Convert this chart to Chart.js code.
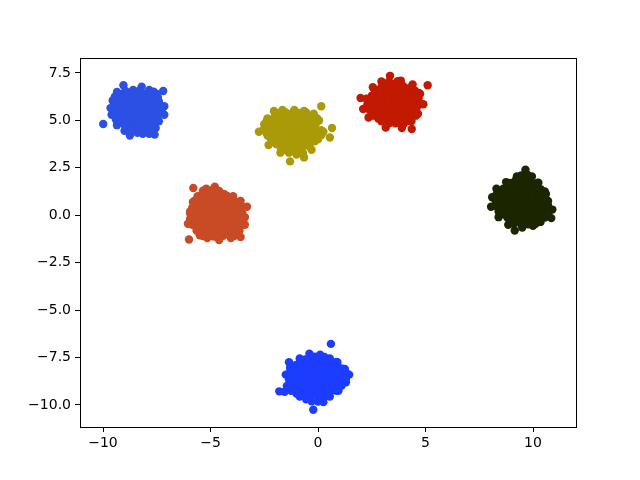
<!DOCTYPE html>
<html>
<head>
<meta charset="utf-8">
<script src="https://cdn.jsdelivr.net/npm/chart.js@4"></script>
<style>
  html, body { margin: 0; padding: 0; background: #fff; }
  canvas { display: block; }
</style>
</head>
<body>
<canvas id="chart-blobs" width="640" height="480"></canvas>
<script>
// cluster points [x, y]
const blobUpperLeft = [
  [-9.99, 4.81], [-9.05, 6.85], [-8.6, 6.6], [-8.2, 6.78], [-7.85, 6.6], [-7.2, 6.55],
  [-7.4, 6.0], [-7.15, 5.75], [-7.15, 5.3], [-7.4, 4.95], [-7.55, 4.6], [-7.6, 4.25],
  [-7.85, 4.3], [-8.15, 4.3], [-8.4, 4.35], [-8.75, 4.2], [-9.0, 4.45], [-9.35, 4.75],
  [-9.6, 5.3], [-9.65, 5.65], [-9.55, 6.05], [-9.35, 6.5],
  [-9.1, 6.4], [-8.8, 6.38], [-8.45, 6.42], [-8.1, 6.4], [-7.8, 6.35], [-7.5, 6.4],
  [-9.3, 6.1], [-8.95, 6.12], [-8.6, 6.08], [-8.3, 6.1], [-7.95, 6.1], [-7.6, 6.12],
  [-9.4, 5.8], [-9.1, 5.82], [-8.75, 5.78], [-8.4, 5.8], [-8.05, 5.8], [-7.7, 5.82], [-7.4, 5.78],
  [-9.35, 5.5], [-9.0, 5.52], [-8.65, 5.48], [-8.3, 5.5], [-8.0, 5.5], [-7.65, 5.52], [-7.35, 5.48],
  [-9.3, 5.2], [-8.95, 5.22], [-8.6, 5.18], [-8.25, 5.2], [-7.9, 5.2], [-7.55, 5.22],
  [-9.1, 4.9], [-8.75, 4.92], [-8.45, 4.88], [-8.1, 4.9], [-7.75, 4.9],
  [-8.85, 4.6], [-8.55, 4.62], [-8.2, 4.58], [-7.9, 4.6],
  [-8.95, 6.55], [-8.3, 6.58], [-7.65, 6.52],
  [-9.45, 6.25], [-9.12, 6.25], [-8.78, 6.27], [-8.45, 6.23], [-8.12, 6.25], [-7.78, 6.27], [-7.45, 6.22],
  [-9.5, 5.95], [-9.12, 5.97], [-8.78, 5.93], [-8.45, 5.95], [-8.12, 5.97], [-7.78, 5.93], [-7.45, 5.95],
  [-9.55, 5.65], [-9.25, 5.67], [-8.92, 5.63], [-8.58, 5.65], [-8.22, 5.67], [-7.88, 5.63], [-7.52, 5.65], [-7.25, 5.62],
  [-9.45, 5.35], [-9.15, 5.37], [-8.8, 5.33], [-8.45, 5.35], [-8.1, 5.37], [-7.78, 5.33], [-7.45, 5.35],
  [-9.4, 5.05], [-9.05, 5.07], [-8.78, 5.03], [-8.42, 5.05], [-8.08, 5.07], [-7.72, 5.03], [-7.45, 5.05],
  [-9.0, 4.75], [-8.62, 4.77], [-8.3, 4.73], [-7.95, 4.75], [-7.65, 4.77],
  [-8.7, 4.45], [-8.35, 4.47], [-8.05, 4.43], [-7.75, 4.45]
];
const blobYellow = [
  [-2.05, 5.5], [-1.65, 5.55], [-1.1, 5.55], [-0.65, 5.5], [0.15, 5.75], [-0.2, 5.35],
  [0.05, 5.0], [0.65, 4.6], [0.55, 4.1], [0.0, 4.0], [-0.3, 3.45], [-0.65, 3.05],
  [-1.3, 2.84], [-1.75, 3.3], [-2.3, 3.7], [-2.75, 4.4], [-2.4, 4.95], [-1.0, 3.2], [0.25, 4.4],
  [-2.0, 5.25], [-1.7, 5.27], [-1.35, 5.23], [-1.0, 5.25], [-0.7, 5.27], [-0.4, 5.23],
  [-2.2, 4.95], [-1.85, 4.97], [-1.5, 4.93], [-1.2, 4.95], [-0.85, 4.97], [-0.5, 4.93], [-0.2, 4.95],
  [-2.35, 4.65], [-2.0, 4.67], [-1.65, 4.63], [-1.3, 4.65], [-0.95, 4.67], [-0.6, 4.63], [-0.25, 4.65],
  [-2.4, 4.35], [-2.05, 4.37], [-1.7, 4.33], [-1.35, 4.35], [-1.0, 4.37], [-0.65, 4.33], [-0.3, 4.35], [0.0, 4.37],
  [-2.2, 4.05], [-1.85, 4.07], [-1.5, 4.03], [-1.15, 4.05], [-0.8, 4.07], [-0.45, 4.03], [-0.15, 4.05],
  [-1.95, 3.75], [-1.6, 3.77], [-1.25, 3.73], [-0.9, 3.75], [-0.55, 3.77],
  [-1.55, 3.45], [-1.2, 3.47], [-0.85, 3.43],
  [-1.85, 5.4], [-1.5, 5.42], [-1.2, 5.38], [-0.85, 5.4], [-0.55, 5.42],
  [-2.35, 5.1], [-2.05, 5.12], [-1.68, 5.08], [-1.35, 5.1], [-1.02, 5.12], [-0.68, 5.08], [-0.35, 5.1], [-0.05, 5.12],
  [-2.5, 4.8], [-2.18, 4.82], [-1.82, 4.78], [-1.48, 4.8], [-1.12, 4.82], [-0.78, 4.78], [-0.42, 4.8], [-0.1, 4.82],
  [-2.55, 4.5], [-2.22, 4.52], [-1.88, 4.48], [-1.52, 4.5], [-1.18, 4.52], [-0.82, 4.48], [-0.48, 4.5], [-0.15, 4.52], [0.15, 4.48],
  [-2.35, 4.2], [-2.02, 4.22], [-1.68, 4.18], [-1.32, 4.2], [-0.98, 4.22], [-0.62, 4.18], [-0.3, 4.2], [0.15, 4.22],
  [-2.05, 3.9], [-1.75, 3.92], [-1.4, 3.88], [-1.05, 3.9], [-0.72, 3.92], [-0.38, 3.88], [-0.15, 3.9],
  [-1.75, 3.6], [-1.42, 3.62], [-1.08, 3.58], [-0.72, 3.6], [-0.4, 3.62],
  [-1.35, 3.3], [-1.0, 3.32], [-0.7, 3.28]
];
const blobRed = [
  [3.35, 7.35], [3.85, 7.1], [4.4, 6.9], [5.1, 6.85], [4.9, 5.85], [4.65, 5.35],
  [4.36, 4.55], [3.9, 4.6], [3.15, 4.62], [2.35, 5.15], [2.1, 5.6], [1.98, 6.18],
  [2.55, 6.75], [2.95, 7.05], [4.75, 6.4], [3.6, 4.85],
  [3.1, 6.9], [3.5, 6.92], [3.9, 6.88],
  [2.8, 6.6], [3.15, 6.62], [3.5, 6.58], [3.85, 6.6], [4.2, 6.62], [4.5, 6.58],
  [2.5, 6.3], [2.85, 6.32], [3.2, 6.28], [3.55, 6.3], [3.9, 6.32], [4.25, 6.28], [4.6, 6.3],
  [2.4, 6.0], [2.75, 6.02], [3.1, 5.98], [3.45, 6.0], [3.8, 6.02], [4.15, 5.98], [4.5, 6.0],
  [2.5, 5.7], [2.85, 5.72], [3.2, 5.68], [3.55, 5.7], [3.9, 5.72], [4.25, 5.68], [4.6, 5.7],
  [2.65, 5.4], [3.0, 5.42], [3.35, 5.38], [3.7, 5.4], [4.05, 5.42], [4.4, 5.38],
  [2.8, 5.1], [3.15, 5.12], [3.5, 5.08], [3.85, 5.1], [4.2, 5.12],
  [3.3, 4.85], [4.0, 4.85],
  [3.3, 7.05], [3.7, 7.07],
  [2.95, 6.75], [3.32, 6.77], [3.68, 6.73], [4.02, 6.75], [4.35, 6.77],
  [2.65, 6.45], [3.0, 6.47], [3.35, 6.43], [3.72, 6.45], [4.05, 6.47], [4.4, 6.43], [4.7, 6.45],
  [2.25, 6.15], [2.58, 6.17], [2.92, 6.13], [3.28, 6.15], [3.62, 6.17], [3.98, 6.13], [4.32, 6.15], [4.68, 6.17],
  [2.3, 5.85], [2.6, 5.87], [2.95, 5.83], [3.3, 5.85], [3.72, 5.87], [4.08, 5.83], [4.42, 5.85], [4.75, 5.87],
  [2.4, 5.55], [2.75, 5.57], [3.1, 5.53], [3.45, 5.55], [3.8, 5.57], [4.15, 5.53], [4.5, 5.55],
  [2.55, 5.25], [2.9, 5.27], [3.25, 5.23], [3.6, 5.25], [3.95, 5.27], [4.3, 5.23], [4.55, 5.25],
  [2.95, 4.95], [3.5, 4.97], [3.8, 4.93], [4.15, 4.95], [4.35, 4.97]
];
const blobDark = [
  [9.65, 2.4], [9.25, 2.05], [8.75, 1.75], [8.3, 1.4], [8.1, 0.95], [8.05, 0.45],
  [8.4, -0.1], [8.85, -0.5], [9.15, -0.8], [9.5, -0.65], [10.0, -0.55], [10.35, -0.35],
  [10.85, -0.15], [10.9, 0.3], [10.7, 0.75], [10.55, 1.25], [10.2, 1.7], [9.95, 2.05],
  [9.2, 1.85], [9.5, 1.87], [9.85, 1.83],
  [8.8, 1.55], [9.1, 1.57], [9.45, 1.53], [9.8, 1.55], [10.1, 1.57],
  [8.5, 1.25], [8.85, 1.27], [9.2, 1.23], [9.55, 1.25], [9.9, 1.27], [10.25, 1.23],
  [8.4, 0.95], [8.75, 0.97], [9.1, 0.93], [9.45, 0.95], [9.8, 0.97], [10.15, 0.93], [10.45, 0.95],
  [8.35, 0.65], [8.7, 0.67], [9.05, 0.63], [9.4, 0.65], [9.75, 0.67], [10.1, 0.63], [10.45, 0.65],
  [8.5, 0.35], [8.85, 0.37], [9.2, 0.33], [9.55, 0.35], [9.9, 0.37], [10.25, 0.33], [10.6, 0.35],
  [8.65, 0.05], [9.0, 0.07], [9.35, 0.03], [9.7, 0.05], [10.05, 0.07], [10.4, 0.03],
  [8.9, -0.25], [9.25, -0.23], [9.6, -0.27], [9.95, -0.25], [10.3, -0.23],
  [9.45, 2.1], [9.75, 2.12],
  [8.95, 1.7], [9.3, 1.72], [9.62, 1.68], [9.95, 1.7], [10.25, 1.72],
  [8.62, 1.4], [8.98, 1.42], [9.32, 1.38], [9.65, 1.4], [10.0, 1.42], [10.35, 1.38],
  [8.3, 1.1], [8.6, 1.12], [8.95, 1.08], [9.3, 1.1], [9.65, 1.12], [10.0, 1.08], [10.3, 1.1], [10.6, 1.12],
  [8.25, 0.8], [8.55, 0.82], [8.9, 0.78], [9.25, 0.8], [9.6, 0.82], [9.95, 0.78], [10.3, 0.8], [10.62, 0.82],
  [8.25, 0.5], [8.6, 0.52], [8.95, 0.48], [9.3, 0.5], [9.65, 0.52], [10.0, 0.48], [10.35, 0.5], [10.7, 0.52],
  [8.4, 0.2], [8.78, 0.22], [9.12, 0.18], [9.45, 0.2], [9.8, 0.22], [10.15, 0.18], [10.5, 0.2], [10.75, 0.22],
  [8.8, -0.1], [9.15, -0.08], [9.5, -0.12], [9.85, -0.1], [10.2, -0.08], [10.55, -0.12],
  [9.1, -0.45], [9.42, -0.43], [9.78, -0.47], [10.12, -0.45]
];
const blobOrange = [
  [-5.8, 1.44], [-5.2, 1.4], [-4.8, 1.5], [-4.35, 1.1], [-3.95, 1.0], [-3.6, 0.75],
  [-3.3, 0.45], [-3.4, -0.1], [-3.4, -0.5], [-3.6, -1.15], [-4.05, -1.2], [-4.6, -1.3],
  [-5.15, -1.2], [-5.5, -1.05], [-6.0, -1.28], [-6.05, -0.45], [-5.95, 0.2], [-5.75, 0.75], [-5.45, 1.05],
  [-5.1, 1.15], [-4.75, 1.17], [-4.4, 1.13],
  [-5.45, 0.85], [-5.1, 0.87], [-4.75, 0.83], [-4.4, 0.85], [-4.05, 0.87],
  [-5.65, 0.55], [-5.3, 0.57], [-4.95, 0.53], [-4.6, 0.55], [-4.25, 0.57], [-3.9, 0.53],
  [-5.75, 0.25], [-5.4, 0.27], [-5.05, 0.23], [-4.7, 0.25], [-4.35, 0.27], [-4.0, 0.23], [-3.65, 0.25],
  [-5.8, -0.05], [-5.45, -0.03], [-5.1, -0.07], [-4.75, -0.05], [-4.4, -0.03], [-4.05, -0.07], [-3.7, -0.05],
  [-5.7, -0.35], [-5.35, -0.33], [-5.0, -0.37], [-4.65, -0.35], [-4.3, -0.33], [-3.95, -0.37], [-3.65, -0.35],
  [-5.5, -0.65], [-5.15, -0.63], [-4.8, -0.67], [-4.45, -0.65], [-4.1, -0.63], [-3.75, -0.67],
  [-5.2, -0.95], [-4.85, -0.93], [-4.5, -0.97], [-4.15, -0.95], [-3.85, -0.93],
  [-5.35, 1.3], [-4.95, 1.32], [-4.6, 1.28],
  [-5.6, 1.0], [-5.28, 1.02], [-4.92, 0.98], [-4.58, 1.0], [-4.22, 1.02],
  [-5.82, 0.7], [-5.48, 0.72], [-5.12, 0.68], [-4.78, 0.7], [-4.42, 0.72], [-4.08, 0.68], [-3.75, 0.7],
  [-5.85, 0.4], [-5.52, 0.42], [-5.18, 0.38], [-4.82, 0.4], [-4.48, 0.42], [-4.12, 0.38], [-3.8, 0.4], [-3.48, 0.42],
  [-5.95, 0.1], [-5.62, 0.12], [-5.28, 0.08], [-4.92, 0.1], [-4.58, 0.12], [-4.22, 0.08], [-3.88, 0.1], [-3.52, 0.12],
  [-5.95, -0.2], [-5.62, -0.18], [-5.28, -0.22], [-4.92, -0.2], [-4.58, -0.18], [-4.22, -0.22], [-3.88, -0.2], [-3.5, -0.18],
  [-5.85, -0.5], [-5.52, -0.48], [-5.18, -0.52], [-4.82, -0.5], [-4.48, -0.48], [-4.12, -0.52], [-3.8, -0.5], [-3.55, -0.48],
  [-5.65, -0.8], [-5.32, -0.78], [-4.98, -0.82], [-4.62, -0.8], [-4.28, -0.78], [-3.95, -0.82], [-3.65, -0.8],
  [-5.35, -1.1], [-4.85, -1.12], [-4.4, -1.08], [-3.9, -1.1]
];
const blobLowerBlue = [
  [0.6, -6.78], [-0.4, -7.3], [0.1, -7.35], [0.55, -7.55], [0.9, -7.75], [1.25, -8.1],
  [1.45, -8.4], [1.3, -8.8], [0.95, -9.25], [0.55, -9.55], [0.25, -9.85], [-0.22, -10.25],
  [-0.55, -9.7], [-1.0, -9.4], [-1.55, -9.3], [-1.8, -9.28], [-1.45, -9.0], [-1.5, -8.4],
  [-1.35, -7.75], [-0.85, -7.55],
  [-0.6, -7.6], [-0.25, -7.58], [0.1, -7.62], [0.45, -7.6],
  [-1.05, -7.9], [-0.7, -7.88], [-0.35, -7.92], [0.0, -7.9], [0.35, -7.88], [0.7, -7.92],
  [-1.2, -8.2], [-0.85, -8.18], [-0.5, -8.22], [-0.15, -8.2], [0.2, -8.18], [0.55, -8.22], [0.9, -8.2],
  [-1.2, -8.5], [-0.85, -8.48], [-0.5, -8.52], [-0.15, -8.5], [0.2, -8.48], [0.55, -8.52], [0.9, -8.5],
  [-1.15, -8.8], [-0.8, -8.78], [-0.45, -8.82], [-0.1, -8.8], [0.25, -8.78], [0.6, -8.82], [0.95, -8.8],
  [-0.95, -9.1], [-0.6, -9.08], [-0.25, -9.12], [0.1, -9.1], [0.45, -9.08], [0.75, -9.12],
  [-0.55, -9.4], [-0.2, -9.38], [0.15, -9.42], [0.45, -9.4],
  [-0.15, -7.45], [0.3, -7.47],
  [-0.85, -7.75], [-0.52, -7.77], [-0.18, -7.73], [0.18, -7.75], [0.52, -7.77], [0.85, -7.73],
  [-1.3, -8.05], [-0.88, -8.07], [-0.52, -8.03], [-0.18, -8.05], [0.18, -8.07], [0.52, -8.03], [0.88, -8.05], [1.1, -8.07],
  [-1.35, -8.35], [-1.02, -8.37], [-0.68, -8.33], [-0.32, -8.35], [0.02, -8.37], [0.38, -8.33], [0.72, -8.35], [1.1, -8.37], [1.3, -8.33],
  [-1.35, -8.65], [-1.02, -8.67], [-0.68, -8.63], [-0.32, -8.65], [0.02, -8.67], [0.38, -8.63], [0.72, -8.65], [1.1, -8.67], [1.3, -8.63],
  [-1.25, -8.95], [-0.98, -8.97], [-0.62, -8.93], [-0.28, -8.95], [0.08, -8.97], [0.42, -8.93], [0.78, -8.95], [1.1, -8.97],
  [-1.25, -9.25], [-0.78, -9.27], [-0.42, -9.23], [-0.08, -9.25], [0.28, -9.27], [0.62, -9.23], [0.85, -9.25],
  [-0.85, -9.55], [-0.35, -9.57], [0.0, -9.53], [0.3, -9.55],
  [-0.3, -9.8], [0.0, -9.82]
];

const xTicks = [-10, -5, 0, 5, 10];
const yTicks = [-10, -7.5, -5, -2.5, 0, 2.5, 5, 7.5];

const blobs = [
  { pts: blobUpperLeft, color: "#2b50e3" },
  { pts: blobYellow, color: "#ab9a08" },
  { pts: blobRed, color: "#c11a00" },
  { pts: blobDark, color: "#1b2600" },
  { pts: blobOrange, color: "#c94b26" },
  { pts: blobLowerBlue, color: "#1c3dfe" },
];

const minus = (s) => s.replace("-", "\u2212");

const frame = {
  id: "frame",
  afterDraw(chart) {
    const { ctx, chartArea: a } = chart;
    ctx.save();
    ctx.strokeStyle = "#000";
    ctx.lineWidth = 1;
    ctx.strokeRect(Math.round(a.left) + 0.5, Math.round(a.top) + 0.5, Math.round(a.right - a.left), Math.round(a.bottom - a.top));
    ctx.restore();
  },
};

const tickFont = { family: "DejaVu Sans", size: 14 };

new Chart(document.getElementById("chart-blobs"), {
  type: "scatter",
  data: {
    datasets: blobs.map(b => ({
      data: b.pts.map(p => ({ x: p[0], y: p[1] })),
      backgroundColor: b.color,
      borderWidth: 0,
      pointRadius: 4.2,
      pointHoverRadius: 4.2,
    })),
  },
  options: {
    responsive: false,
    animation: false,
    events: [],
    layout: { padding: { top: 58, right: 64, left: 0, bottom: 0 } },
    plugins: { legend: { display: false }, tooltip: { enabled: false } },
    scales: {
      x: {
        type: "linear", min: -11.07, max: 12.0,
        afterBuildTicks: (s) => { s.ticks = xTicks.map(v => ({ value: v })); },
        afterFit: (s) => { s.height = 53; },
        grid: { drawOnChartArea: false, drawTicks: true, tickLength: 5, color: "#000" },
        border: { display: true, color: "#000" },
        ticks: { color: "#000", font: tickFont, padding: 3, maxRotation: 0, callback: (v) => minus(String(v)) },
      },
      y: {
        type: "linear", min: -11.16, max: 8.29,
        afterBuildTicks: (s) => { s.ticks = yTicks.map(v => ({ value: v })); },
        afterFit: (s) => { s.width = 80; },
        grid: { drawOnChartArea: false, drawTicks: true, tickLength: 5, color: "#000" },
        border: { display: true, color: "#000" },
        ticks: { color: "#000", font: tickFont, padding: 4, callback: (v) => minus(v.toFixed(1)) },
      },
    },
  },
  plugins: [frame],
});
</script>
</body>
</html>
